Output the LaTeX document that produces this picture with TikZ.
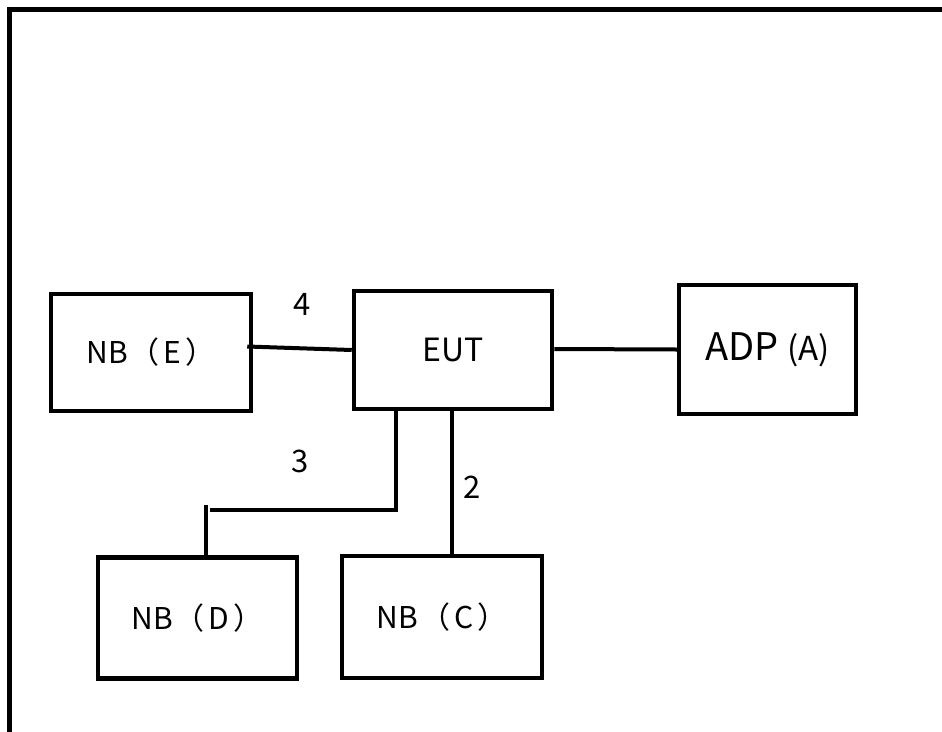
\documentclass[tikz,border=0pt]{standalone}
\usepackage{fontspec}
\setmainfont{Noto Sans CJK SC}
\newcommand{\nbl}[1]{NB\hspace{2pt}（\hspace{4pt}#1\hspace{4pt}）}
\begin{document}
\begin{tikzpicture}[x=1pt,y=-1pt,
  box/.style={draw,line width=4.5pt,minimum width=#1,inner sep=0pt,font=\fontsize{30}{36}\selectfont},
  conn/.style={line width=4pt},
  lbl/.style={font=\fontsize{31}{36}\selectfont,inner sep=0pt}]
\useasboundingbox (0,0) rectangle (942,731);
\draw[line width=5pt] (9.5,740) -- (9.5,9.5) -- (950,9.5);
\node[box=200pt,minimum height=117pt] (E) at (151,352.5) {\nbl{E}};
\node[box=198pt,minimum height=118pt] (EUT) at (453,350) {\fontsize{32}{36}\selectfont EUT};
\node[box=177pt,minimum height=129pt] (A) at (767.5,349.5) {\fontsize{38}{40}\selectfont ADP \fontsize{33}{36}\selectfont(A)};
\node[box=199pt,minimum height=121pt] (D) at (197.5,618) {\nbl{D}};
\node[box=200pt,minimum height=122pt] (C) at (442,617) {\nbl{C}};
\draw[conn] ([shift={(-6,-6)}]E.east) -- (EUT.west);
\draw[conn] ([yshift=1]EUT.east) -- (A.west);
\draw[conn] ([xshift=-1]EUT.south) -- ([xshift=-1]EUT.south |- C.north);
\coordinate (c3) at (210,510);
\coordinate (c3b) at (206,505);
\draw[conn] ([xshift=-57]EUT.south) |- (c3);
\draw[conn] (c3b) -- (c3b |- D.north);
\node[lbl] (l4) at (302,304) {4};
\node[lbl] (l3) at (300,461) {3};
\node[lbl] (l2) at (472,487) {2};
\end{tikzpicture}
\end{document}
